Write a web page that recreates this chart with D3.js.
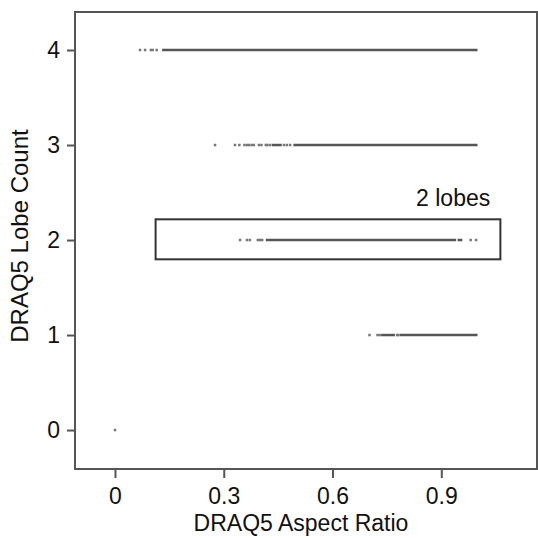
<!DOCTYPE html>
<html>
<head>
<meta charset="utf-8">
<script src="https://cdn.jsdelivr.net/npm/d3@7/dist/d3.min.js"></script>
<style>
  html, body { margin: 0; padding: 0; background: #fff; }
  svg { display: block; font-family: "Liberation Sans", Arial, sans-serif; }
</style>
</head>
<body>
<svg id="chart" width="538" height="538"></svg>
<script>
// ---- data ----
const xTicks = [0, 0.3, 0.6, 0.9];
const yTicks = [0, 1, 2, 3, 4];
const xTickLabels = ["0", "0.3", "0.6", "0.9"];
const yTickLabels = ["0", "1", "2", "3", "4"];
const xTitle = "DRAQ5 Aspect Ratio";
const yTitle = "DRAQ5 Lobe Count";

// isolated observations per lobe count (aspect ratio values)
const lobe4Points = [0.069, 0.083, 0.099, 0.104, 0.115];
const lobe3Points = [0.276, 0.331, 0.343, 0.357, 0.364, 0.370, 0.377, 0.383, 0.397, 0.404, 0.416, 0.420, 0.427, 0.466, 0.474, 0.483];
const lobe2Points = [0.345, 0.364, 0.372, 0.394, 0.400, 0.406, 0.981, 0.996];
const lobe1Points = [0.702, 0.724, 0.730, 0.778, 0.782];
const lobe0Points = [0];

// dense runs of observations [from, to] per lobe count
const lobe4Runs = [[0.130, 1.0]];
const lobe3Runs = [[0.432, 0.460], [0.492, 1.0]];
const lobe2Runs = [[0.416, 0.941], [0.945, 0.958]];
const lobe1Runs = [[0.734, 0.772], [0.786, 1.0]];
const lobe0Runs = [];

// annotation box: x range, y range (data units)
const boxX = [0.112, 1.063];
const boxY = [1.797, 2.218];
const boxLabel = "2 lobes";
const boxLabelPos = [1.035, 2.355];

const rows = [
  { lobes: 4, points: lobe4Points, runs: lobe4Runs },
  { lobes: 3, points: lobe3Points, runs: lobe3Runs },
  { lobes: 2, points: lobe2Points, runs: lobe2Runs },
  { lobes: 1, points: lobe1Points, runs: lobe1Runs },
  { lobes: 0, points: lobe0Points, runs: lobe0Runs }
];

// ---- layout ----
const svg = d3.select("#chart");
const plot = { left: 75, right: 537, top: 12, bottom: 469 };

const x = d3.scaleLinear().domain([-0.1103, 1.164]).range([plot.left, plot.right]);
const y = d3.scaleLinear().domain([-0.41, 4.4]).range([plot.bottom, plot.top]);

const frameColor = "#555";
const textColor = "#111";

// frame
svg.append("rect")
  .attr("x", plot.left).attr("y", plot.top)
  .attr("width", plot.right - plot.left).attr("height", plot.bottom - plot.top)
  .attr("fill", "none").attr("stroke", frameColor).attr("stroke-width", 2);

// x axis
const xAxis = d3.axisBottom(x).tickValues(xTicks)
  .tickFormat((d, i) => xTickLabels[i]).tickSize(9).tickPadding(10);
const gx = svg.append("g").attr("transform", `translate(0,${plot.bottom})`).call(xAxis);
gx.select(".domain").remove();
gx.selectAll(".tick line").attr("stroke", frameColor).attr("stroke-width", 2);
gx.selectAll(".tick text").attr("fill", textColor).attr("font-size", 23)
  .attr("font-family", "Liberation Sans, Arial, sans-serif");

// y axis
const yAxis = d3.axisLeft(y).tickValues(yTicks)
  .tickFormat((d, i) => yTickLabels[i]).tickSize(8).tickPadding(7);
const gy = svg.append("g").attr("transform", `translate(${plot.left},0)`).call(yAxis);
gy.select(".domain").remove();
gy.selectAll(".tick line").attr("stroke", frameColor).attr("stroke-width", 2);
gy.selectAll(".tick text").attr("fill", textColor).attr("font-size", 23)
  .attr("font-family", "Liberation Sans, Arial, sans-serif");

// titles
svg.append("text")
  .attr("x", 301).attr("y", 531)
  .attr("text-anchor", "middle").attr("font-size", 23).attr("fill", textColor)
  .text(xTitle);
svg.append("text")
  .attr("transform", `translate(28,236) rotate(-90)`)
  .attr("text-anchor", "middle").attr("font-size", 24).attr("fill", textColor)
  .text(yTitle);

// runs and isolated points
const g = svg.append("g");
rows.forEach(r => {
  g.selectAll(null).data(r.runs).enter().append("line")
    .attr("x1", d => x(d[0])).attr("x2", d => x(d[1]))
    .attr("y1", y(r.lobes)).attr("y2", y(r.lobes))
    .attr("stroke", "#555").attr("stroke-width", 2.5);
  g.selectAll(null).data(r.points).enter().append("rect")
    .attr("x", d => x(d) - 1.25).attr("y", y(r.lobes) - 1.25)
    .attr("width", 2.5).attr("height", 2.5)
    .attr("fill", "#777");
});

// annotation box
svg.append("rect")
  .attr("x", x(boxX[0])).attr("y", y(boxY[1]))
  .attr("width", x(boxX[1]) - x(boxX[0])).attr("height", y(boxY[0]) - y(boxY[1]))
  .attr("fill", "none").attr("stroke", "#333").attr("stroke-width", 2);
svg.append("text")
  .attr("x", x(boxLabelPos[0])).attr("y", y(boxLabelPos[1]))
  .attr("text-anchor", "end").attr("font-size", 23).attr("fill", textColor)
  .text(boxLabel);
</script>
</body>
</html>
